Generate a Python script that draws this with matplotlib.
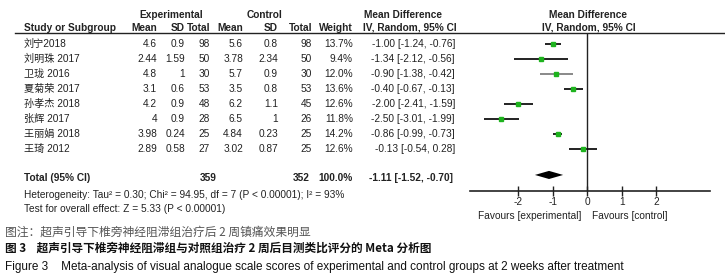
import matplotlib
matplotlib.use("Agg")
import matplotlib.pyplot as plt

studies = ["刘宁2018", "刘明珠 2017", "卫珑 2016", "夏菊荣 2017", "孙孝杰 2018",
           "张辉 2017", "王丽娟 2018", "王琦 2012"]
exp_mean = ["4.6", "2.44", "4.8", "3.1", "4.2", "4", "3.98", "2.89"]
exp_sd = ["0.9", "1.59", "1", "0.6", "0.9", "0.9", "0.24", "0.58"]
exp_n = [98, 50, 30, 53, 48, 28, 25, 27]
ctl_mean = ["5.6", "3.78", "5.7", "3.5", "6.2", "6.5", "4.84", "3.02"]
ctl_sd = ["0.8", "2.34", "0.9", "0.8", "1.1", "1", "0.23", "0.87"]
ctl_n = [98, 50, 30, 53, 45, 26, 25, 25]
weights = [13.7, 9.4, 12.0, 13.6, 12.6, 11.8, 14.2, 12.6]
md = [-1.00, -1.34, -0.90, -0.40, -2.00, -2.50, -0.86, -0.13]
lo = [-1.24, -2.12, -1.38, -0.67, -2.41, -3.01, -0.99, -0.54]
hi = [-0.76, -0.56, -0.42, -0.13, -1.59, -1.99, -0.73, 0.28]
total_md, total_lo, total_hi = -1.11, -1.52, -0.70
total_exp, total_ctl, total_weight = 359, 352, 100.0
xticks = [-2, -1, 0, 1, 2]

W, H = 725, 279
fig = plt.figure(figsize=(W / 100, H / 100), dpi=100)
ax = fig.add_axes([0, 0, 1, 1])
ax.set_xlim(0, W)
ax.set_ylim(H, 0)
ax.axis("off")

LAT = ["Liberation Sans", "Noto Sans CJK SC"]
CJK = ["Noto Sans CJK SC", "Liberation Sans"]
fs = 7.3
tc = "#222222"

def row_y(i):
    return 44 + 15 * i

# headers
ax.text(171, 15, "Experimental", ha="center", va="center", fontsize=fs, weight="bold", family=LAT, color=tc)
ax.text(265, 15, "Control", ha="center", va="center", fontsize=fs, weight="bold", family=LAT, color=tc)
ax.text(403, 15, "Mean Difference", ha="center", va="center", fontsize=fs, weight="bold", family=LAT, color=tc)
ax.text(588, 15, "Mean Difference", ha="center", va="center", fontsize=fs, weight="bold", family=LAT, color=tc)
hy = 28
ax.text(24, hy, "Study or Subgroup", ha="left", va="center", fontsize=fs, weight="bold", family=LAT, color=tc)
for x, s in [(157, "Mean"), (185, "SD"), (210, "Total"), (243, "Mean"), (278, "SD"),
             (312, "Total"), (353, "Weight")]:
    ax.text(x, hy, s, ha="right", va="center", fontsize=fs, weight="bold", family=LAT, color=tc)
ax.text(410, hy, "IV, Random, 95% CI", ha="center", va="center", fontsize=fs, weight="bold", family=LAT, color=tc)
ax.text(589, hy, "IV, Random, 95% CI", ha="center", va="center", fontsize=fs, weight="bold", family=LAT, color=tc)
ax.plot([15, W], [33, 33], color=tc, lw=1)

for i, name in enumerate(studies):
    y = row_y(i)
    ax.text(24, y, name, ha="left", va="center", fontsize=fs, family=LAT, color=tc)
    cols = [(157, exp_mean[i]), (185, exp_sd[i]), (210, str(exp_n[i])),
            (243, ctl_mean[i]), (278, ctl_sd[i]), (312, str(ctl_n[i])),
            (353, f"{weights[i]:.1f}%"),
            (455, f"{md[i]:.2f} [{lo[i]:.2f}, {hi[i]:.2f}]")]
    for x, s in cols:
        ax.text(x, y, s, ha="right", va="center", fontsize=fs, family=LAT, color=tc)

ty = 178
ax.text(24, ty, "Total (95% CI)", ha="left", va="center", fontsize=fs, weight="bold", family=LAT, color=tc)
ax.text(217, ty, str(total_exp), ha="right", va="center", fontsize=fs, weight="bold", family=LAT, color=tc)
ax.text(310, ty, str(total_ctl), ha="right", va="center", fontsize=fs, weight="bold", family=LAT, color=tc)
ax.text(353, ty, f"{total_weight:.1f}%", ha="right", va="center", fontsize=fs, weight="bold", family=LAT, color=tc)
ax.text(453, ty, f"{total_md:.2f} [{total_lo:.2f}, {total_hi:.2f}]", ha="right", va="center",
        fontsize=fs, weight="bold", family=LAT, color=tc)
ax.text(24, 195, "Heterogeneity: Tau² = 0.30; Chi² = 94.95, df = 7 (P < 0.00001); I² = 93%",
        ha="left", va="center", fontsize=fs, family=LAT, color=tc)
ax.text(24, 209, "Test for overall effect: Z = 5.33 (P < 0.00001)",
        ha="left", va="center", fontsize=fs, family=LAT, color=tc)

ax.text(581, 216, "Favours [experimental]", ha="right", va="center", fontsize=fs, family=LAT, color=tc)
ax.text(592, 216, "Favours [control]", ha="left", va="center", fontsize=fs, family=LAT, color=tc)

# captions
ax.text(5, 232, "图注：超声引导下椎旁神经阻滞组治疗后 2 周镇痛效果明显", ha="left", va="center",
        fontsize=8.5, family=CJK, color="#555555")
ax.text(5, 248, "图 3    超声引导下椎旁神经阻滞组与对照组治疗 2 周后目测类比评分的 Meta 分析图", ha="left",
        va="center", fontsize=8.4, family=CJK, weight="bold", color="#111111")
ax.text(5, 267, "Figure 3    Meta-analysis of visual analogue scale scores of experimental and control groups at 2 weeks after treatment",
        ha="left", va="center", fontsize=8.45, family=LAT, color="#111111")

# forest plot axes
px0, px1 = 470, 710
zero_px, unit = 587.2, 34.4
top_px, bot_px = 33, 191
fax = fig.add_axes([px0 / W, (H - bot_px) / H, (px1 - px0) / W, (bot_px - top_px) / H])
fax.set_xlim((px0 - zero_px) / unit, (px1 - zero_px) / unit)
fax.set_ylim((bot_px - 44) / 15, (top_px - 44) / 15)
fax.patch.set_alpha(0)
for s in ["top", "left", "right"]:
    fax.spines[s].set_visible(False)
fax.spines["bottom"].set_color(tc)
fax.spines["bottom"].set_linewidth(1.2)
fax.set_yticks([])
fax.set_xticks(xticks)
fax.set_xticklabels([str(t) for t in xticks], fontsize=fs, family=LAT, color=tc)
fax.tick_params(axis="x", direction="inout", length=7, width=1, colors=tc, pad=1)
fax.axvline(0, color=tc, lw=1)

green = "#1eb31e"
for i in range(len(studies)):
    c = "#808080" if i == 2 else "#111111"
    fax.hlines(i, lo[i], hi[i], color=c, lw=1.3, zorder=2)
    ms = 0.95 * weights[i] ** 0.5
    fax.plot(md[i], i, "s", ms=ms, color=green, mec=green, zorder=3)

dy = 8.73
dh = 0.27
fax.fill([total_lo, total_md, total_hi, total_md], [dy, dy - dh, dy, dy + dh], color="black", lw=0)

fig.savefig("out.png", dpi=100)
